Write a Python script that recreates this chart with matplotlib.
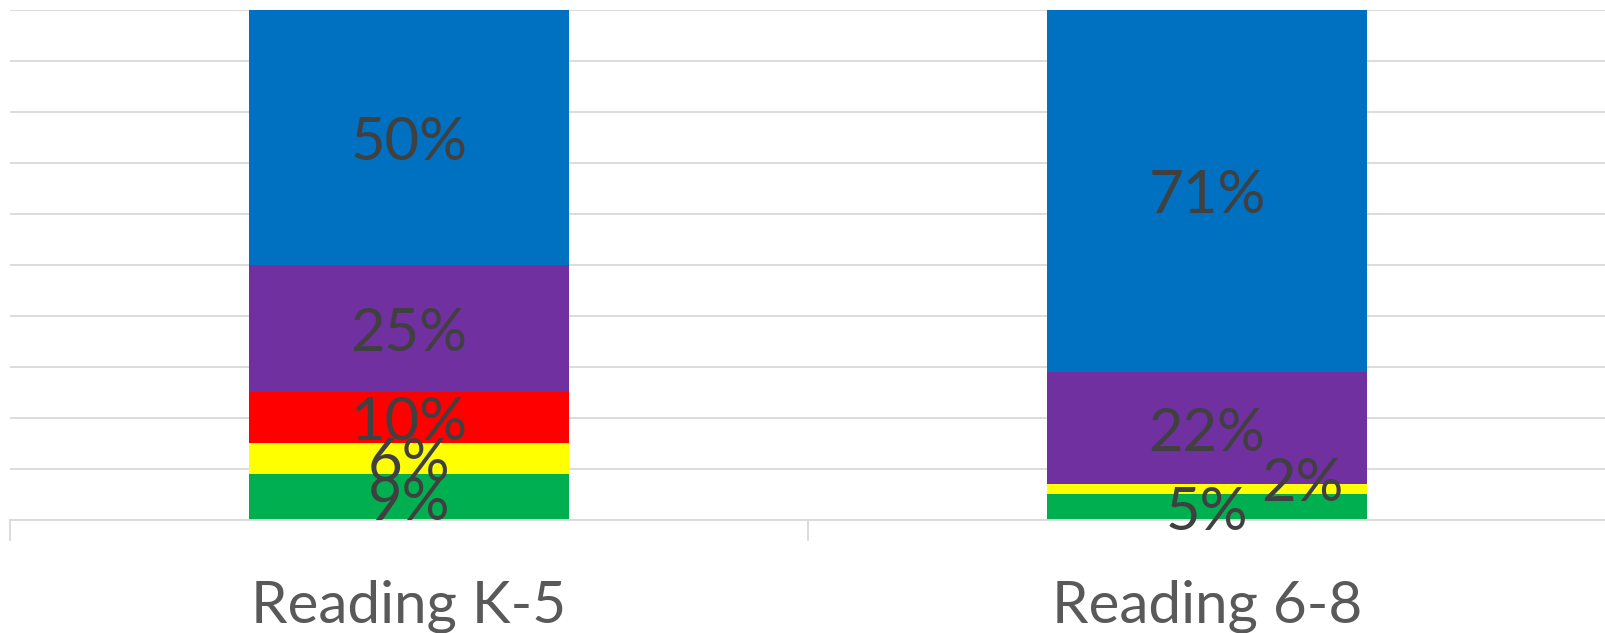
import numpy as np
import matplotlib
matplotlib.use("Agg")
import matplotlib.pyplot as plt

# -------
# Data
# -------
categories = ["Reading K-5", "Reading 6-8"]
series_names = ["Green", "Yellow", "Red", "Purple", "Blue"]
green = [9, 5]
yellow = [6, 2]
red = [10, 0]
purple = [25, 22]
blue = [50, 71]

series = [green, yellow, red, purple, blue]
colors = ["#00b050", "#ffff00", "#ff0000", "#7030a0", "#0070c0"]

plt.rcParams['font.family'] = ['Lato', 'DejaVu Sans']

fig = plt.figure(figsize=(16.06, 6.33), dpi=100)
ax = fig.add_axes([10 / 1606, (633 - 520) / 633, 1 - 10 / 1606, (520 - 9.6) / 633])

x = np.arange(len(categories))
bottom = np.zeros(len(categories))
for vals, col in zip(series, colors):
    vals = np.array(vals, dtype=float)
    ax.bar(x, vals, 0.4, bottom=bottom, color=col, zorder=2)
    for xi, v, b in zip(x, vals, bottom):
        if v <= 0:
            continue
        tx, ty = xi, b + v / 2
        # small segment label pushed aside, as in the original
        if v < 3:
            tx, ty = xi + 0.12, b + v / 2 + 2.2
        ax.annotate(f"{v:.0f}%", (tx, ty), xytext=(0, -4), textcoords="offset points",
                    ha="center", va="center", fontsize=43, color="#404040", zorder=3)
    bottom += vals

ax.set_xlim(-0.5, 1.5)
ax.set_ylim(0, 100)
ax.set_yticks(np.arange(0, 101, 10))
ax.yaxis.grid(True, color="#d9d9d9", lw=1.3, zorder=0)
ax.tick_params(axis="y", left=False, labelleft=False)
ax.set_xticks(x)
ax.set_xticklabels(categories, fontsize=42, color="#595959")
ax.tick_params(axis="x", length=0, pad=43)
# category separators below the axis
for xs in [-0.5, 0.5]:
    ax.plot([xs, xs], [0, -4], color="#d9d9d9", lw=1.3, clip_on=False)

for s in ["top", "right", "left"]:
    ax.spines[s].set_visible(False)
ax.spines["bottom"].set_color("#d9d9d9")
ax.spines["bottom"].set_linewidth(1.3)

fig.savefig("out.png", dpi=100)
